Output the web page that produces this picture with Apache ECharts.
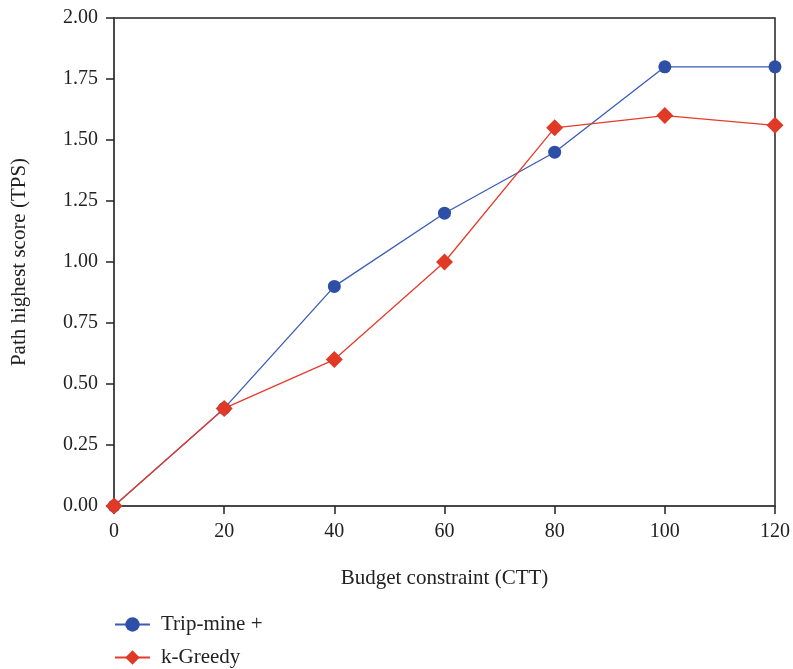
<!DOCTYPE html>
<html>
<head>
<meta charset="utf-8">
<script src="https://cdn.jsdelivr.net/npm/echarts@6/dist/echarts.min.js"></script>
<style>html,body{margin:0;padding:0;background:#fff;}#c{width:793px;height:669px;}</style>
</head>
<body>
<div id="c"></div>
<script>
var categories = [0, 20, 40, 60, 80, 100, 120];
var tripMine = [0, 0.4, 0.9, 1.2, 1.45, 1.8, 1.8];
var kGreedy = [0, 0.4, 0.6, 1.0, 1.55, 1.6, 1.56];
var seriesNames = ['Trip-mine +', 'k-Greedy'];
var xTitle = 'Budget constraint (CTT)';
var yTitle = 'Path highest score (TPS)';

var font = 'Liberation Serif';
function legendFor(name, top) {
  return {
    orient: 'vertical', left: 114, top: top, padding: 0, itemWidth: 35, itemHeight: 18,
    textStyle: {fontFamily: font, fontSize: 21, color: '#222', padding: [0,0,0,6]},
    data: [name]
  };
}
var chart = echarts.init(document.getElementById('c'));
chart.setOption({
  animation: false,
  textStyle: {fontFamily: font},
  grid: {left: 114, right: 18, top: 18, bottom: 163, show: true, borderColor: '#222', borderWidth: 1.5, backgroundColor: 'transparent'},
  xAxis: {
    type: 'value', min: 0, max: 120, interval: 20,
    name: xTitle, nameLocation: 'middle', nameGap: 62,
    nameTextStyle: {fontFamily: font, fontSize: 21, color: '#222'},
    axisLine: {show: true, lineStyle: {color: '#444', width: 1.5}},
    axisTick: {show: true, inside: false, length: 8, lineStyle: {color: '#222', width: 1.5}},
    axisLabel: {fontFamily: font, fontSize: 20, color: '#222', margin: 16},
    splitLine: {show: false}
  },
  yAxis: {
    type: 'value', min: 0, max: 2, interval: 0.25,
    name: yTitle, nameLocation: 'middle', nameGap: 84,
    nameTextStyle: {fontFamily: font, fontSize: 21, color: '#222'},
    axisLine: {show: true, lineStyle: {color: '#444', width: 1.5}},
    axisTick: {show: true, inside: false, length: 8, lineStyle: {color: '#222', width: 1.5}},
    axisLabel: {fontFamily: font, fontSize: 20, color: '#222', margin: 16, formatter: function(v){return v.toFixed(2);}},
    splitLine: {show: false}
  },
  legend: [legendFor(seriesNames[0], 614), legendFor(seriesNames[1], 647)],
  series: [
    {
      name: seriesNames[0], type: 'line', clip: false,
      data: categories.map(function(c, i){return [c, tripMine[i]];}),
      symbol: 'circle', symbolSize: 13,
      itemStyle: {color: '#2e4fa6'},
      lineStyle: {color: '#3a5bb5', width: 1.3}
    },
    {
      name: seriesNames[1], type: 'line', clip: false,
      data: categories.map(function(c, i){return [c, kGreedy[i]];}),
      symbol: 'diamond', symbolSize: 17,
      itemStyle: {color: '#e03a27'},
      lineStyle: {color: '#e53b2b', width: 1.3}
    }
  ]
});
</script>
</body>
</html>
